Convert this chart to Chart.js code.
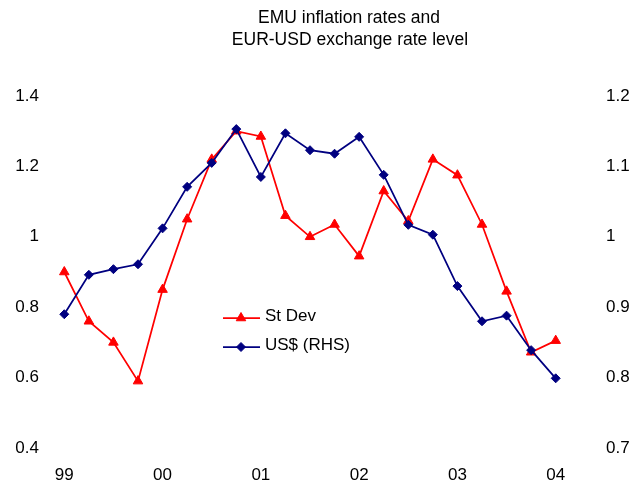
<!DOCTYPE html>
<html>
<head>
<meta charset="utf-8">
<script src="https://cdn.jsdelivr.net/npm/chart.js@4"></script>
<style>
html,body{margin:0;padding:0;background:#fff;}
#wrap{width:635px;height:484px;position:relative;}
</style>
</head>
<body>
<div id="wrap"><canvas id="c" width="635" height="484"></canvas></div>
<script>
const categories = ['99Q1','99Q2','99Q3','99Q4','00Q1','00Q2','00Q3','00Q4','01Q1','01Q2','01Q3','01Q4','02Q1','02Q2','02Q3','02Q4','03Q1','03Q2','03Q3','03Q4','04Q1'];
const yearLabels = ['99','00','01','02','03','04'];
const stDev = [0.90, 0.76, 0.70, 0.59, 0.85, 1.05, 1.22, 1.30, 1.285, 1.06, 1.00, 1.035, 0.945, 1.13, 1.045, 1.22, 1.175, 1.035, 0.845, 0.672, 0.705];
const usd = [0.89, 0.946, 0.954, 0.961, 1.012, 1.071, 1.105, 1.153, 1.085, 1.147, 1.123, 1.118, 1.142, 1.088, 1.017, 1.003, 0.930, 0.880, 0.888, 0.839, 0.799];
const titleLines = ['EMU inflation rates and', 'EUR-USD exchange rate level'];
const seriesNames = ['St Dev', 'US$ (RHS)'];

const FONT = '"Liberation Sans", Arial, sans-serif';
Chart.defaults.font.family = FONT;
Chart.defaults.color = '#000';

const titlePlugin = {
  id: 'customTitle',
  afterDraw(chart) {
    const ctx = chart.ctx;
    ctx.save();
    ctx.font = '17.5px ' + FONT;
    ctx.fillStyle = '#000';
    ctx.textAlign = 'center';
    ctx.textBaseline = 'alphabetic';
    ctx.fillText(titleLines[0], 349, 23);
    ctx.fillText(titleLines[1], 350, 45);
    ctx.restore();
  }
};

const legendPlugin = {
  id: 'customLegend',
  afterDraw(chart) {
    const ctx = chart.ctx;
    ctx.save();
    ctx.font = '17px ' + FONT;
    ctx.textBaseline = 'alphabetic';
    ctx.textAlign = 'left';
    const rows = [{y: 318, base: 321, ds: chart.data.datasets[0]}, {y: 347, base: 350, ds: chart.data.datasets[1]}];
    rows.forEach(r => {
      ctx.strokeStyle = r.ds.borderColor;
      ctx.lineWidth = r.ds.borderWidth;
      ctx.beginPath();
      ctx.moveTo(223, r.y);
      ctx.lineTo(260, r.y);
      ctx.stroke();
      ctx.fillStyle = r.ds.pointBackgroundColor;
      ctx.strokeStyle = r.ds.pointBorderColor;
      ctx.lineWidth = 1;
      Chart.helpers.drawPoint(ctx, {pointStyle: r.ds.pointStyle, radius: r.ds.pointRadius, borderWidth: 1, rotation: 0}, 241, r.y);
      ctx.fillStyle = '#000';
      ctx.fillText(r.ds.label, 265, r.base);
    });
    ctx.restore();
  }
};

new Chart(document.getElementById('c'), {
  type: 'line',
  data: {
    labels: categories,
    datasets: [
      {
        label: seriesNames[0],
        data: stDev,
        yAxisID: 'y',
        borderColor: '#FF0000',
        backgroundColor: '#FF0000',
        pointBackgroundColor: '#FF0000',
        pointBorderColor: '#FF0000',
        borderWidth: 1.75,
        pointStyle: 'triangle',
        pointRadius: 5.5,
        pointBorderWidth: 1,
        tension: 0,
        order: 2
      },
      {
        label: seriesNames[1],
        data: usd,
        yAxisID: 'y1',
        borderColor: '#000080',
        backgroundColor: '#000080',
        pointBackgroundColor: '#000080',
        pointBorderColor: '#000080',
        borderWidth: 1.75,
        pointStyle: 'rectRot',
        pointRadius: 4.5,
        pointBorderWidth: 1,
        tension: 0,
        order: 1
      }
    ]
  },
  options: {
    responsive: false,
    animation: false,
    events: [],
    layout: {padding: {top: 96, bottom: 0, left: 0, right: 0}},
    plugins: {
      legend: {display: false},
      title: {display: false},
      tooltip: {enabled: false}
    },
    scales: {
      x: {
        offset: true,
        grid: {display: false, drawTicks: false},
        border: {display: false},
        ticks: {
          autoSkip: false,
          maxRotation: 0,
          padding: 17,
          font: {size: 17},
          callback: function(v, i) { return i % 4 === 0 ? yearLabels[i / 4] : ''; }
        },
        afterFit(s) { s.height = 36; }
      },
      y: {
        position: 'left',
        min: 0.4, max: 1.4,
        grid: {display: false, drawTicks: true, tickLength: 13},
        border: {display: false},
        ticks: {
          stepSize: 0.2,
          padding: 0,
          font: {size: 17},
          callback: v => String(+v.toFixed(1))
        },
        afterFit(s) { s.width = 52; }
      },
      y1: {
        position: 'right',
        min: 0.7, max: 1.2,
        grid: {display: false, drawTicks: true, tickLength: 38},
        border: {display: false},
        ticks: {
          stepSize: 0.1,
          padding: 0,
          font: {size: 17},
          callback: v => String(+v.toFixed(1))
        },
        afterFit(s) { s.width = 67; }
      }
    }
  },
  plugins: [titlePlugin, legendPlugin]
});
</script>
</body>
</html>
